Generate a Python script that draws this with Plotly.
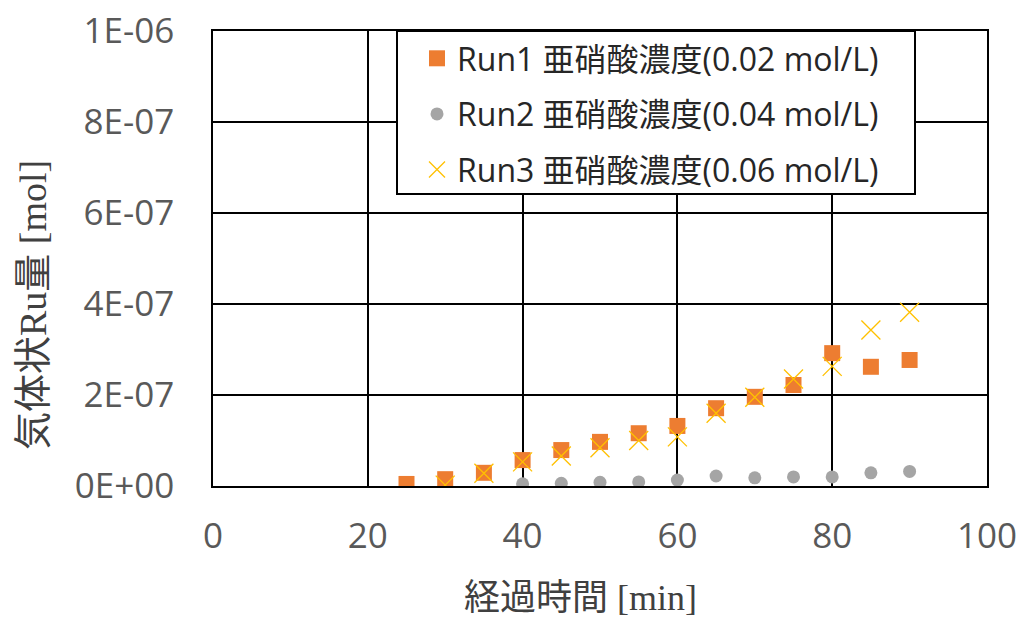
import plotly.graph_objects as go

# Elapsed time [min] and gaseous Ru amount [mol] for each nitrous acid run
run1_time = [25, 30, 35, 40, 45, 50, 55, 60, 65, 70, 75, 80, 85, 90]
run1_ru = [4.5e-9, 1.5e-8, 2.9e-8, 5.7e-8, 7.9e-8, 9.7e-8, 1.16e-7, 1.32e-7,
           1.71e-7, 1.96e-7, 2.22e-7, 2.92e-7, 2.62e-7, 2.77e-7]

run2_time = [40, 45, 50, 55, 60, 65, 70, 75, 80, 85, 90]
run2_ru = [5e-9, 6e-9, 8e-9, 9e-9, 1.3e-8, 2.2e-8, 1.8e-8, 2.0e-8, 2.0e-8,
           2.9e-8, 3.2e-8]

run3_time = [30, 35, 40, 45, 50, 55, 60, 65, 70, 75, 80, 85, 90]
run3_ru = [2e-9, 2.8e-8, 5.3e-8, 6.6e-8, 8.4e-8, 1.0e-7, 1.08e-7, 1.6e-7,
           1.95e-7, 2.35e-7, 2.63e-7, 3.43e-7, 3.82e-7]

series_names = ["Run1 亜硝酸濃度(0.02 mol/L)",
                "Run2 亜硝酸濃度(0.04 mol/L)",
                "Run3 亜硝酸濃度(0.06 mol/L)"]

x_ticks = [0, 20, 40, 60, 80, 100]
y_ticks = [0, 2e-7, 4e-7, 6e-7, 8e-7, 1e-6]
y_tick_text = ["0E+00", "2E-07", "4E-07", "6E-07", "8E-07", "1E-06"]

W, H = 1036, 619
L, R, T, B = 213, 49, 31, 133
PW, PH = W - L - R, H - T - B

fig = go.Figure()
fig.add_trace(go.Scatter(
    x=run1_time, y=run1_ru, mode="markers", name=series_names[0],
    legendgroup="r1",
    marker=dict(symbol="square", size=16, color="#ED7D31"),
))
fig.add_trace(go.Scatter(
    x=run2_time, y=run2_ru, mode="markers", name=series_names[1],
    legendgroup="r2",
    marker=dict(symbol="circle", size=13, color="#A5A5A5"),
))
fig.add_trace(go.Scatter(
    x=run3_time, y=run3_ru, mode="markers", name=series_names[2],
    legendgroup="r3",
    marker=dict(symbol="x-thin", size=19, color="#FFC000",
                line=dict(color="#FFC000", width=1.3)),
))

tick_font = dict(family="Open Sans, Noto Sans CJK JP", size=35, color="#595959")
title_font = dict(family="Liberation Serif, Noto Sans CJK JP", size=36, color="#404040")

# legend frame (pixel extents converted to paper coordinates)
box_x0, box_x1 = (397 - L) / PW, (915 - L) / PW
box_y0, box_y1 = ((H - B) - 194) / PH, 1.0

fig.update_layout(
    width=W, height=H,
    margin=dict(l=L, r=R, t=T, b=B, autoexpand=False),
    paper_bgcolor="white", plot_bgcolor="white",
    showlegend=True,
    legend=dict(
        x=box_x0, y=1, xanchor="left", yanchor="top",
        bgcolor="rgba(0,0,0,0)", borderwidth=0,
        font=dict(family="Open Sans, Noto Sans CJK JP", size=32, color="#262626"),
        traceorder="grouped", tracegroupgap=11, indentation=20,
    ),
    xaxis=dict(
        range=[0, 100], tickvals=x_ticks, ticks="", tickfont=tick_font,
        showgrid=True, gridcolor="black", gridwidth=1.6,
        showline=True, linecolor="black", linewidth=1.6, mirror=True,
        zeroline=False, ticklabelstandoff=18, automargin=False,
    ),
    yaxis=dict(
        range=[0, 1e-6], tickvals=y_ticks, ticktext=y_tick_text, ticks="",
        tickfont=tick_font,
        showgrid=True, gridcolor="black", gridwidth=1.6,
        showline=True, linecolor="black", linewidth=1.6, mirror=True,
        zeroline=False, ticklabelstandoff=30, automargin=False,
    ),
    shapes=[
        dict(type="rect", xref="paper", yref="paper",
             x0=box_x0, x1=box_x1, y0=box_y0, y1=box_y1,
             fillcolor="white", line=dict(color="black", width=2),
             layer="above"),
    ],
    annotations=[
        dict(text="経過時間 [min]", xref="paper", yref="paper",
             x=(580 - L) / PW, y=-(598 - (H - B)) / PH,
             xanchor="center", yanchor="middle", showarrow=False,
             font=title_font),
        dict(text="気体状Ru量 [mol]", xref="paper", yref="paper",
             x=-(L - 33) / PW, y=((H - B) - 305) / PH,
             xanchor="center", yanchor="middle", showarrow=False,
             textangle=-90, font=dict(title_font, size=38)),
    ],
)

fig.write_html("out.html")
